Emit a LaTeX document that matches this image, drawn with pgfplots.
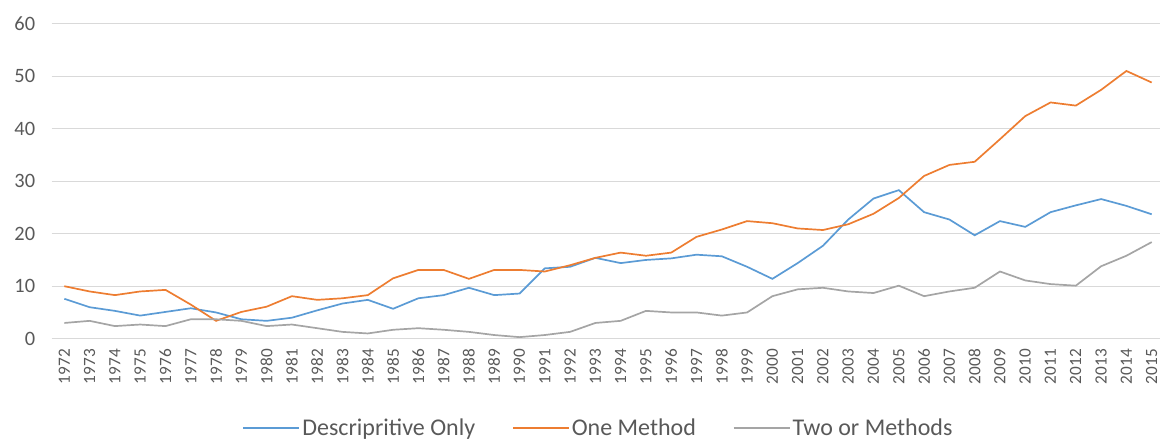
\documentclass[border=0pt]{standalone}
\usepackage{pgfplots}
\pgfplotsset{compat=1.18}
\usepackage{pgfplotstable}
\usepackage{fontspec}
\setmainfont{Carlito}
\definecolor{cblue}{HTML}{5B9BD5}
\definecolor{corange}{HTML}{ED7D31}
\definecolor{cgray}{HTML}{A5A5A5}
\definecolor{ctext}{HTML}{595959}
\definecolor{cgrid}{HTML}{D9D9D9}
\pgfplotstableread{
year desc one two
1972 7.6 10.0 3.0
1973 6.0 9.0 3.4
1974 5.3 8.3 2.4
1975 4.4 9.0 2.7
1976 5.1 9.3 2.4
1977 5.8 6.5 3.7
1978 5.0 3.4 3.7
1979 3.7 5.1 3.4
1980 3.4 6.1 2.4
1981 4.0 8.1 2.7
1982 5.4 7.4 2.0
1983 6.7 7.7 1.3
1984 7.4 8.3 1.0
1985 5.7 11.5 1.7
1986 7.7 13.1 2.0
1987 8.3 13.1 1.7
1988 9.7 11.4 1.3
1989 8.3 13.1 0.7
1990 8.6 13.1 0.3
1991 13.4 12.8 0.7
1992 13.7 14.0 1.3
1993 15.4 15.4 3.0
1994 14.4 16.4 3.4
1995 15.0 15.8 5.3
1996 15.3 16.4 5.0
1997 16.0 19.4 5.0
1998 15.7 20.8 4.4
1999 13.7 22.4 5.0
2000 11.4 22.0 8.1
2001 14.4 21.0 9.4
2002 17.7 20.7 9.7
2003 22.7 21.8 9.0
2004 26.7 23.8 8.7
2005 28.3 26.8 10.1
2006 24.1 31.0 8.1
2007 22.7 33.1 9.0
2008 19.7 33.7 9.7
2009 22.4 38.0 12.8
2010 21.3 42.4 11.1
2011 24.1 45.0 10.4
2012 25.4 44.4 10.1
2013 26.6 47.4 13.8
2014 25.3 51.0 15.8
2015 23.7 48.8 18.4
}\data
\begin{document}
\begin{tikzpicture}[x=1pt,y=1pt]
\path[use as bounding box] (0,0) rectangle (1160,440);
\begin{axis}[
  at={(51.7pt,101.3pt)}, anchor=south west,
  scale only axis, width=1108.3pt, height=315pt,
  xmin=1971.5, xmax=2015.33, ymin=0, ymax=60,
  xtick={1972,...,2015}, ytick={0,10,...,60},
  x tick label style={yshift=-7pt, rotate=90, anchor=east, font=\fontsize{17.2}{17.2}\selectfont, text=ctext, /pgf/number format/set thousands separator={}, /pgf/number format/assume math mode=true},
  y tick label style={font=\fontsize{20.4}{20.4}\selectfont, text=ctext, /pgf/number format/assume math mode=true, xshift=-13pt},
  major tick length=0pt,
  ymajorgrids, grid style={cgrid, line width=1.3pt},
  axis line style={draw=none},
  clip=false,
  legend columns=3,
  legend style={draw=none, fill=none, at={(0.4934,-0.2835)}, anchor=center,
    font=\fontsize{24}{24}\selectfont, text=ctext,
    /tikz/every even column/.append style={column sep=35pt}},
  legend image code/.code={\draw[#1] (0pt,0pt) -- (53pt,0pt); \path (0pt,0pt) -- (56pt,0pt);},
]
\addplot[cblue, line width=1.7pt] table[x=year,y=desc] {\data};
\addlegendentry{Descripritive Only}
\addplot[corange, line width=1.7pt] table[x=year,y=one] {\data};
\addlegendentry{One Method}
\addplot[cgray, line width=1.7pt] table[x=year,y=two] {\data};
\addlegendentry{Two or Methods}
\end{axis}
\end{tikzpicture}
\end{document}
